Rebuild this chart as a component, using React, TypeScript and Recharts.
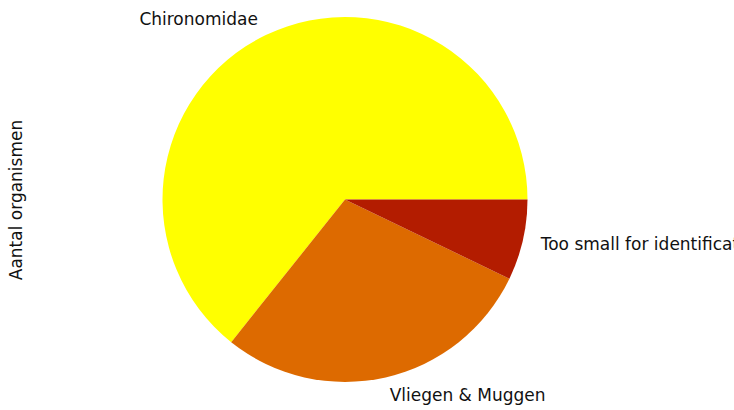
import React from 'react';
import { PieChart, Pie, Cell } from 'recharts';

const categories = ['Chironomidae', 'Vliegen & Muggen', 'Too small for identification'];
const counts = [9, 4, 1];
const colors = ['#ffff00', '#dd6a00', '#b31c00'];
const yLabel = 'Aantal organismen';

const data = categories.map((name, i) => ({ name, value: counts[i] }));

const RAD = Math.PI / 180;
const FONT = 'DejaVu Sans, sans-serif';
const FS = 17;

const renderLabel = (props: any) => {
  const { cx, cy, midAngle, outerRadius, name } = props;
  const r = outerRadius * 1.1;
  const x = cx + r * Math.cos(midAngle * RAD);
  const y = cy - r * Math.sin(midAngle * RAD);
  return (
    <text
      x={x}
      y={y}
      textAnchor={x > cx ? 'start' : 'end'}
      dominantBaseline="central"
      fill="#111"
      fontFamily={FONT}
      fontSize={FS}
    >
      {name}
    </text>
  );
};

export default function App() {
  return (
    <div style={{ position: 'absolute', left: 0, top: 0, width: 734, height: 410, background: '#fff', overflow: 'hidden' }}>
      <PieChart width={734} height={410} margin={{ top: 0, right: 0, bottom: 0, left: 0 }}>
        <Pie
          data={data}
          dataKey="value"
          nameKey="name"
          cx={345}
          cy={199.5}
          outerRadius={182.5}
          innerRadius={0}
          startAngle={0}
          endAngle={360}
          stroke="none"
          label={renderLabel}
          labelLine={false}
          isAnimationActive={false}
        >
          {data.map((d, i) => (
            <Cell key={d.name} fill={colors[i]} stroke="none" />
          ))}
        </Pie>
      </PieChart>
      <div
        style={{
          position: 'absolute',
          left: 16,
          top: 200,
          transform: 'translate(-50%, -50%) rotate(-90deg)',
          fontFamily: FONT,
          fontSize: FS,
          color: '#111',
          whiteSpace: 'nowrap',
        }}
      >
        {yLabel}
      </div>
    </div>
  );
}
